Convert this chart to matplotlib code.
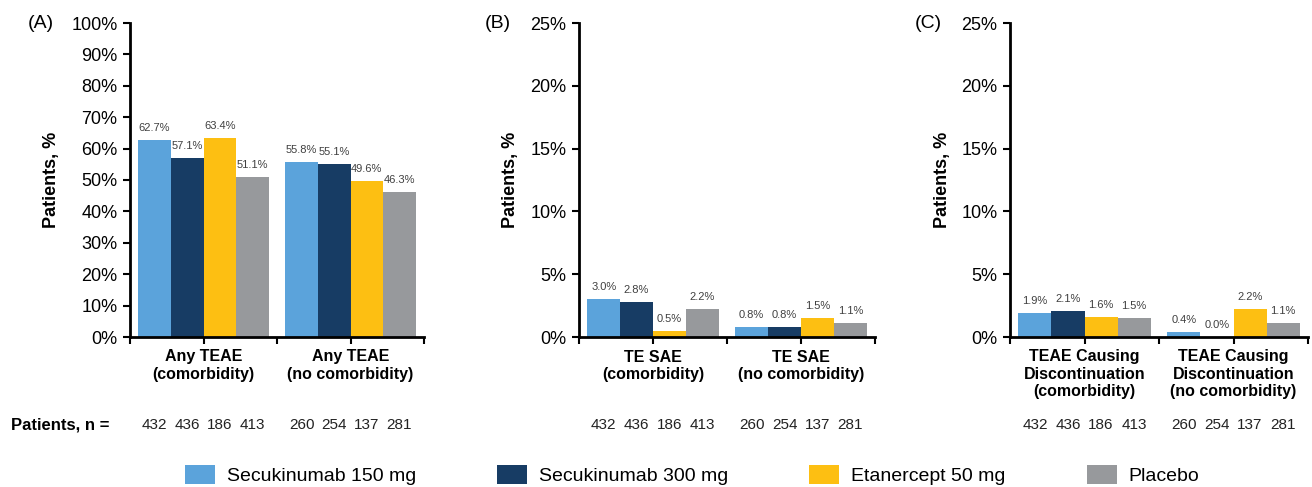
import matplotlib
matplotlib.use("Agg")
import matplotlib.pyplot as plt
import matplotlib.transforms as mtransforms
from matplotlib.patches import Patch
import numpy as np

plt.rcParams['font.family'] = ['Liberation Sans', 'DejaVu Sans']

treatments = ["Secukinumab 150 mg", "Secukinumab 300 mg", "Etanercept 50 mg", "Placebo"]
colors = ["#5BA3DB", "#173C64", "#FDBF12", "#97999C"]

cats_a = ["Any TEAE\n(comorbidity)", "Any TEAE\n(no comorbidity)"]
vals_a = [[62.7, 55.8], [57.1, 55.1], [63.4, 49.6], [51.1, 46.3]]

cats_b = ["TE SAE\n(comorbidity)", "TE SAE\n(no comorbidity)"]
vals_b = [[3.0, 0.8], [2.8, 0.8], [0.5, 1.5], [2.2, 1.1]]

cats_c = ["TEAE Causing\nDiscontinuation\n(comorbidity)", "TEAE Causing\nDiscontinuation\n(no comorbidity)"]
vals_c = [[1.9, 0.4], [2.1, 0.0], [1.6, 2.2], [1.5, 1.1]]

n_comorb = [432, 436, 186, 413]
n_nocomorb = [260, 254, 137, 281]

panels = [
    ("(A)", cats_a, vals_a, 100, 10),
    ("(B)", cats_b, vals_b, 25, 5),
    ("(C)", cats_c, vals_c, 25, 5),
]

W, H = 1312, 487
fig = plt.figure(figsize=(W / 100, H / 100), dpi=100)

ax_px = [(130, 424), (579, 875), (1010, 1308)]
ylabel_x = [-0.237, -0.203, -0.198]
panel_x = [41, 498, 928]
top_px, bot_px = 23, 337

width = 0.222
offsets = (np.arange(4) - 1.5) * width

for i, (plabel, cats, vals, ymax, ystep) in enumerate(panels):
    l, r = ax_px[i]
    ax = fig.add_axes([l / W, 1 - bot_px / H, (r - l) / W, (bot_px - top_px) / H])
    x = np.arange(len(cats))
    for k in range(4):
        xs = x + offsets[k]
        ax.bar(xs, vals[k], width=width, color=colors[k], edgecolor='none', zorder=2)
        for xx, v in zip(xs, vals[k]):
            ax.annotate(f"{v:.1f}%", (xx, v), xytext=(0, 5), textcoords='offset points',
                        ha='center', va='bottom', fontsize=8, color='#404040')
    ax.set_xlim(-0.5, 1.5)
    ax.set_ylim(0, ymax)
    yt = np.arange(0, ymax + 0.01, ystep)
    ax.set_yticks(yt)
    ax.set_yticklabels([f"{int(t)}%" for t in yt], fontsize=13)
    ax.set_xticks(x)
    ax.set_xticklabels(cats, fontsize=11.5, fontweight='bold', linespacing=1.2)
    ax.set_xticks([-0.5, 0.5, 1.5], minor=True)
    ax.tick_params(axis='x', which='both', direction='out', length=5, width=1.5, pad=4)
    ax.tick_params(axis='y', direction='out', length=5, width=1.5, pad=4)
    for s in ['top', 'right']:
        ax.spines[s].set_visible(False)
    for s in ['left', 'bottom']:
        ax.spines[s].set_linewidth(2)
    ax.set_ylabel("Patients, %", fontsize=13, fontweight='bold')
    ax.yaxis.set_label_coords(ylabel_x[i], 0.5)

    trans = mtransforms.blended_transform_factory(ax.transData, ax.transAxes)
    ny = (bot_px - 425) / (bot_px - top_px)
    for k in range(4):
        ax.text(0 + offsets[k], ny, str(n_comorb[k]), transform=trans, ha='center', va='center',
                fontsize=11, color='#222222')
        ax.text(1 + offsets[k], ny, str(n_nocomorb[k]), transform=trans, ha='center', va='center',
                fontsize=11, color='#222222')

    fig.text(panel_x[i] / W, 1 - 24 / H, plabel, ha='center', va='center', fontsize=14)

fig.text(60 / W, 1 - 425 / H, "Patients, n =", ha='center', va='center', fontsize=12, fontweight='bold')

handles = [Patch(facecolor=c, edgecolor='none') for c in colors]
fig.legend(handles, treatments, loc='center left', bbox_to_anchor=(185 / W, 1 - 475 / H),
           ncol=4, frameon=False, fontsize=14, handlelength=1.55, handleheight=1.1,
           handletextpad=0.62, columnspacing=4.15, borderpad=0, borderaxespad=0)

fig.savefig("out.png", dpi=100)
